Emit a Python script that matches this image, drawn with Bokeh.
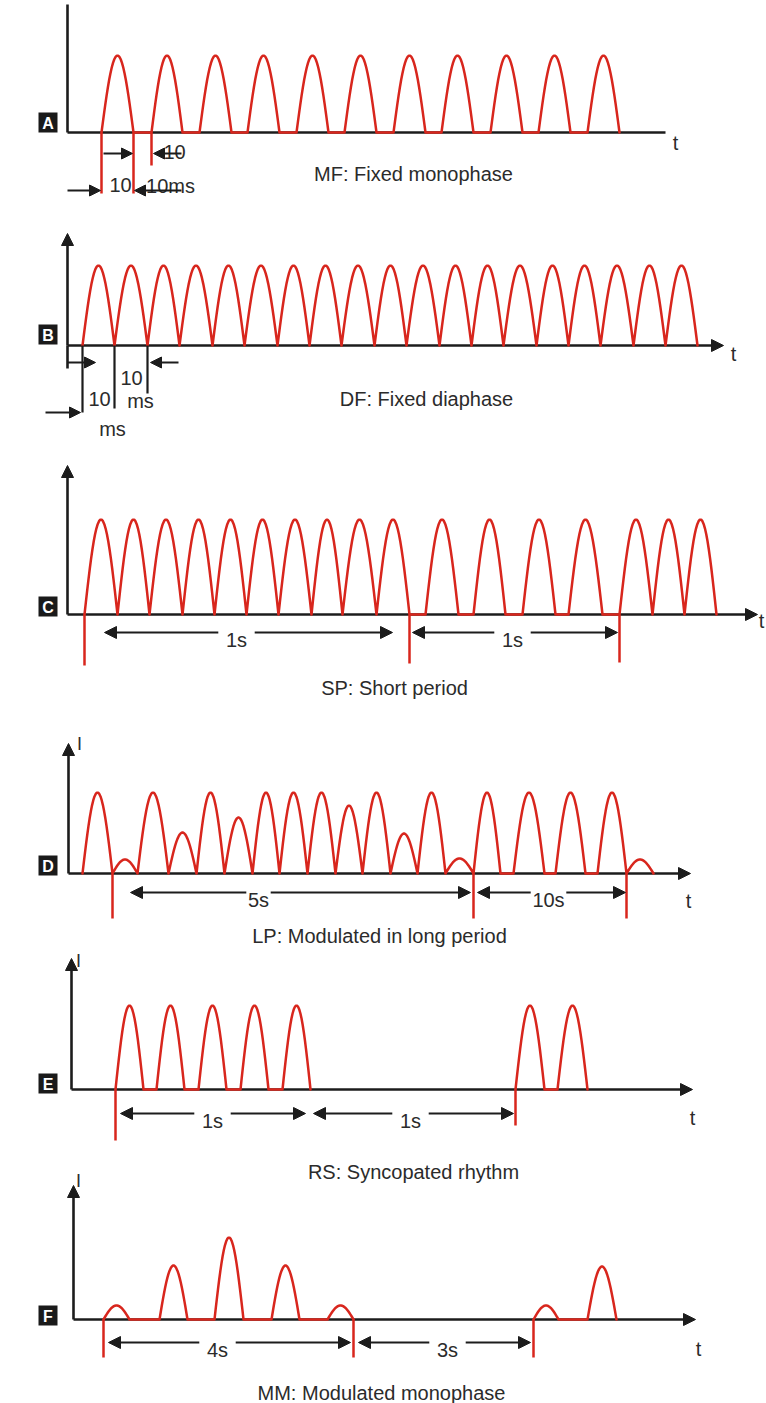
import numpy as np
from bokeh.plotting import figure
from bokeh.models import Range1d, Arrow, NormalHead
from bokeh.core.properties import value
from bokeh.embed import file_html
from bokeh.resources import INLINE

RED = "#d8261d"
INK = "#1c1c1c"
TXT = "#2b2b2b"
FONT = "Liberation Sans"

# ---------------- data ----------------
letters = ["A", "B", "C", "D", "E", "F"]
captions = ["MF: Fixed monophase", "DF: Fixed diaphase", "SP: Short period",
            "LP: Modulated in long period", "RS: Syncopated rhythm",
            "MM: Modulated monophase"]

# A - fixed monophase
a_start = [101, 151, 199, 247, 296, 344, 393, 441, 490, 538, 587]
a_end = [133, 182, 231, 279, 328, 376, 425, 473, 522, 570, 619]
a_amp = [77, 77, 77, 77, 77, 77, 77, 77, 77, 77, 77]
a_group = [0, 0, 0, 0, 0, 0, 0, 0, 0, 0, 0]

# B - fixed diaphase
b_start = [82, 114, 147, 179, 212, 244, 277, 309, 341, 374, 406, 439, 471, 503, 536, 568, 600, 633, 665]
b_end = [114, 147, 179, 212, 244, 277, 309, 341, 374, 406, 439, 471, 503, 536, 568, 600, 633, 665, 697]
b_amp = [80, 80, 80, 80, 80, 80, 80, 80, 80, 80, 80, 80, 80, 80, 80, 80, 80, 80, 80]
b_group = [0] * 19

# C - short period
c_start = [84, 117, 149, 182, 214, 246, 278, 311, 342, 376, 425, 473, 522, 568, 619, 652, 684]
c_end = [117, 149, 182, 214, 246, 278, 311, 342, 376, 409, 458, 505, 555, 602, 652, 684, 716]
c_amp = [95, 95, 95, 95, 95, 95, 95, 95, 95, 95, 95, 95, 95, 95, 95, 95, 95]
c_group = [0] * 17

# D - modulated in long period
d_start = [82, 112, 137, 168, 196, 224, 252, 279, 307, 335, 362, 390, 417, 445, 473, 513, 555, 597, 626]
d_end = [112, 137, 168, 196, 224, 252, 279, 307, 335, 362, 390, 417, 445, 473, 500, 544, 585, 626, 653]
d_amp = [81, 14, 81, 41, 81, 56, 81, 81, 81, 68, 81, 40, 81, 15, 81, 81, 81, 81, 14]
d_group = [0] * 19

# E - syncopated rhythm
e_start = [115, 156, 198, 240, 282, 515, 557]
e_end = [143, 184, 226, 268, 310, 544, 587]
e_amp = [84, 84, 84, 84, 84, 84, 84]
e_group = [0, 0, 0, 0, 0, 1, 1]

# F - modulated monophase
f_start = [103, 159, 214, 271, 327, 533, 587]
f_end = [129, 187, 243, 299, 353, 558, 616]
f_amp = [14, 54, 82, 54, 14, 14, 53]
f_group = [0, 0, 0, 0, 0, 1, 1]

# period markers (red ticks below the time axis): time, depth
a_mark_t = [101, 133, 151]
a_mark_d = [61, 61, 33]
c_mark_t = [84, 409, 619]
c_mark_d = [51, 49, 48]
d_mark_t = [112, 473, 626]
d_mark_d = [45, 45, 45]
e_mark_t = [115, 515]
e_mark_d = [51, 36]
f_mark_t = [103, 353, 533]
f_mark_d = [38, 38, 38]

# dimension arrows: from, to, label, label position
c_dim = [(104, 392, "1s", 236), (412, 617, "1s", 512)]
d_dim = [(130, 470, "5s", 258), (477, 625, "10s", 548)]
e_dim = [(120, 305, "1s", 212), (313, 513, "1s", 410)]
f_dim = [(108, 350, "4s", 217), (358, 530, "3s", 447)]

# ---------------- layout ----------------
base = [132, 345, 614, 873, 1089, 1319]          # time-axis level of each panel
yaxis_x = [67, 67, 67, 68, 71, 73]
yaxis_top = [4, 233, 465, 743, 958, 1185]
xaxis_end = [665, 723, 757, 690, 692, 695]
box_y = [122, 334, 606, 865, 1083, 1315]
cap_x = [413, 426, 394, 379, 413, 381]
cap_y = [173, 398, 687, 935, 1171, 1392]
t_pos = [(675, 142), (733, 353), (761, 620), (688, 900), (692, 1117), (698, 1348)]
i_pos = [None, None, None, (79, 743), (78, 960), (78, 1180)]

W, H = 766, 1403
p = figure(width=W, height=H, x_range=Range1d(0, W), y_range=Range1d(H, 0),
           output_backend="svg", toolbar_location=None,
           x_axis_location=None, y_axis_location=None,
           min_border=0, min_border_left=0, min_border_right=0,
           min_border_top=0, min_border_bottom=0)
p.outline_line_color = None
p.background_fill_color = "white"
p.border_fill_color = "white"
p.xgrid.visible = False
p.ygrid.visible = False
p.grid.grid_line_color = None


def head(size=12):
    return NormalHead(size=size, fill_color=INK, line_color=INK, line_width=1)


def arrow(x0, y0, x1, y1, lw=2.4, size=12, level="annotation"):
    p.add_layout(Arrow(x_start=x0, y_start=y0, x_end=x1, y_end=y1, line_color=INK,
                       line_width=lw, end=head(size), level=level))


def txt(xs, ys, texts, size="20px", align="center", baseline="alphabetic",
        color=TXT, style="normal"):
    p.text(x=xs, y=ys, text=texts, text_font=value(FONT), text_font_size=size,
           text_align=align, text_baseline=baseline, text_color=color,
           text_font_style=style)


def train(starts, ends, amps, groups, b0):
    xs_all, ys_all = [], []
    for g in sorted(set(groups)):
        xs, ys = [], []
        for s, e, a, gg in zip(starts, ends, amps, groups):
            if gg != g:
                continue
            u = np.linspace(0, 1, 26)
            xs.extend(list(s + (e - s) * u))
            ys.extend(list(b0 - a * np.sin(np.pi * u)))
        xs_all.append(xs)
        ys_all.append(ys)
    return xs_all, ys_all


# ---- axes ----
p.line([yaxis_x[0], yaxis_x[0]], [yaxis_top[0], base[0]], line_color=INK, line_width=2.6)
p.line([yaxis_x[0], xaxis_end[0]], [base[0], base[0]], line_color=INK, line_width=2.6)
for k in range(1, 6):
    arrow(yaxis_x[k], base[k], yaxis_x[k], yaxis_top[k], lw=2.6, size=12, level="underlay")
    arrow(yaxis_x[k], base[k], xaxis_end[k], base[k], lw=2.6, size=12, level="underlay")
p.line([yaxis_x[1], yaxis_x[1]], [base[1], base[1] + 23], line_color=INK, line_width=2.6)

# ---- waveforms ----
trains = [(a_start, a_end, a_amp, a_group), (b_start, b_end, b_amp, b_group),
          (c_start, c_end, c_amp, c_group), (d_start, d_end, d_amp, d_group),
          (e_start, e_end, e_amp, e_group), (f_start, f_end, f_amp, f_group)]
for k, (s, e, a, g) in enumerate(trains):
    xs, ys = train(s, e, a, g, base[k])
    p.multi_line(xs, ys, line_color=RED, line_width=2.5, line_join="round", line_cap="round")

# ---- red period markers ----
marks = [(0, a_mark_t, a_mark_d), (2, c_mark_t, c_mark_d), (3, d_mark_t, d_mark_d),
         (4, e_mark_t, e_mark_d), (5, f_mark_t, f_mark_d)]
for k, mt, md in marks:
    p.segment(x0=mt, y0=[base[k]] * len(mt), x1=mt, y1=[base[k] + d for d in md],
              line_color=RED, line_width=2.5)

# ---- A: 10 ms annotations ----
arrow(103, 153, 132, 153, lw=2.2, size=11)
arrow(181, 153, 153, 153, lw=2.2, size=11)
arrow(67, 190, 100, 190, lw=2.2, size=11)
arrow(181, 190, 134, 190, lw=2.2, size=11)
txt([174, 120, 170], [151, 184, 185], ["10", "10", "10ms"])

# ---- B: 10 ms annotations (black) ----
p.segment(x0=[82, 114, 147], y0=[base[1]] * 3, x1=[82, 114, 147], y1=[412, 408, 393],
          line_color=INK, line_width=2.2)
arrow(67, 362, 95, 362, lw=2.2, size=11)
arrow(178, 362, 150, 362, lw=2.2, size=11)
arrow(45, 412, 80, 412, lw=2.2, size=11)
txt([131, 99, 140, 112], [377, 398, 400, 428], ["10", "10", "ms", "ms"])

# ---- dimension arrows ----
dims = [(632, c_dim, 7), (892, d_dim, 1), (1113, e_dim, 7), (1342, f_dim, 7)]
for yy, dl, pad in dims:
    for x0, x1, lab, xm in dl:
        hw = 5.6 * len(lab)
        arrow(xm - hw - pad, yy, x0, yy, lw=2.2, size=12)
        arrow(xm + hw + pad, yy, x1, yy, lw=2.2, size=12)
        txt([xm], [yy + 7], [lab])

# ---- captions, axis letters ----
txt(cap_x, cap_y, captions)
for k in range(6):
    tx, ty = t_pos[k]
    txt([tx], [ty], ["t"])
    if i_pos[k] is not None:
        ix, iy = i_pos[k]
        txt([ix], [iy], ["I"], size="18px")

# ---- panel letter boxes ----
p.segment(x0=[47.5] * 6, y0=[y - 10 for y in box_y], x1=[47.5] * 6, y1=[y + 10 for y in box_y],
          line_color="#1a1a1a", line_width=19, line_cap="butt")
txt([47.5] * 6, [y + 1 for y in box_y], letters, size="16px", color="white",
    style="bold", baseline="middle")

open("out.html", "w").write(file_html(p, INLINE))
